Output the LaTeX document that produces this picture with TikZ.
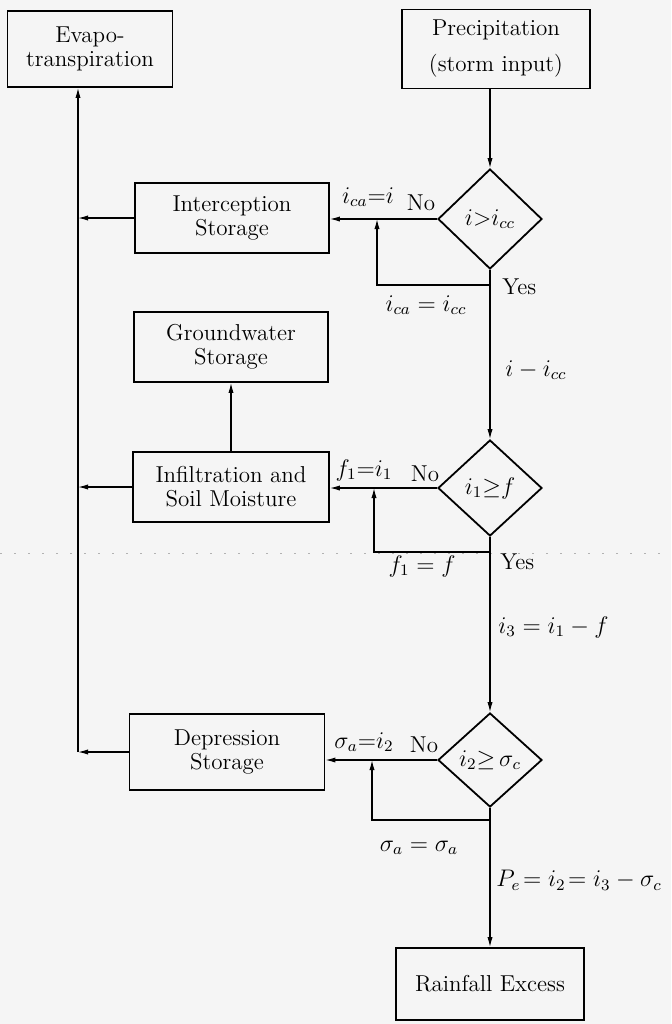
\documentclass[tikz,border=0pt]{standalone}
\usepackage{amsmath,amssymb}
\usetikzlibrary{shapes.geometric,arrows.meta}

\begin{document}
\begin{tikzpicture}[x=0.5pt,y=-0.5pt,
  every node/.style={font=\fontsize{11.5}{12}\selectfont},
  blk/.style={draw,line width=0.9pt,align=center,inner sep=0pt},
  test/.style={draw,diamond,line width=0.9pt,inner sep=0pt,minimum width=52pt,minimum height=50pt},
  flow/.style={line width=0.6pt,-{Latex[length=5pt,width=2.6pt]}},
  lbl/.style={inner sep=1pt}]
\fill[black!4] (0,0) rectangle (671,1024);
\useasboundingbox (0,0) rectangle (671,1024);
\draw[black!30,dash pattern=on 1pt off 6pt] (0,553) -- (671,553);

% boxes
\node[blk,minimum width=82.5pt,minimum height=38pt] (evap) at (90,49) {Evapo-\\transpiration};
\node[blk,minimum width=94pt,minimum height=39.5pt] (precip) at (496,49) {Precipitation\\[6pt](storm input)};
\node[blk,minimum width=97pt,minimum height=35pt] (inter) at (232,218) {Interception\\Storage};
\node[blk,minimum width=97pt,minimum height=35pt] (ground) at (231,347) {Groundwater\\Storage};
\node[blk,minimum width=98pt,minimum height=35pt] (infil) at (231,487) {Infiltration and\\Soil Moisture};
\node[blk,minimum width=97.5pt,minimum height=38pt] (depr) at (227,752) {Depression\\Storage};
\node[blk,minimum width=94pt,minimum height=36pt] (rain) at (490,984) {Rainfall Excess};

% decisions
\node[test] (d1) at (490,219) {$i{>}i_{cc}$\hspace{6pt}};
\node[test,minimum height=48pt] (d2) at (490,488) {$i_1{\geq}f$\hspace{6pt}};
\node[test,minimum height=47pt] (d3) at (490,760) {$i_2{\geq}\,\sigma_c$};

% left trunk
\coordinate (trunk) at (78,752);
\draw[flow] (trunk) -- (trunk |- evap.south);
\draw[flow] (inter.west) -- (inter.west -| trunk);
\draw[flow] (infil.west) -- (infil.west -| trunk);
\draw[flow] (depr.west) -- (trunk);
\draw[flow] (infil.north) -- (ground.south);

% main column
\draw[flow] (precip.south -| d1.north) -- (d1.north);
\draw[flow] (d1.south) -- (d2.north);
\draw[flow] (d2.south) -- (d3.north);
\draw[flow] (d3.south) -- (rain.north);

% no branches
\draw[flow] (d1.west) -- (d1.west -| inter.east);
\draw[flow] (d2.west) -- (d2.west -| infil.east);
\draw[flow] (d3.west) -- (d3.west -| depr.east);

% yes returns
\coordinate (r1) at (377,285);
\coordinate (r2) at (374,552);
\coordinate (r3) at (372,820);
\draw[flow] (r1 -| d1.south) -- (r1) -- (r1 |- d1.west);
\draw[flow] (r2 -| d2.south) -- (r2) -- (r2 |- d2.west);
\draw[flow] (r3 -| d3.south) -- (r3) -- (r3 |- d3.west);

% labels
\node[lbl] (ica1) at (368,197) {$i_{ca}{=}i$};
\node[lbl] (no1) at (421,203) {No};
\node[lbl,anchor=west] (yes1) at (500,287) {Yes};
\node[lbl] (ica2) at (426,305) {$i_{ca} = i_{cc}$};
\node[lbl,anchor=west] (rest1) at (503,370) {$i - i_{cc}$};
\node[lbl] (fa1) at (364,470) {$f_1{=}i_1$};
\node[lbl] (no2) at (425,474) {No};
\node[lbl,anchor=west] (yes2) at (498,562) {Yes};
\node[lbl] (fa2) at (422,566) {$f_1 = f$};
\node[lbl,anchor=west] (rest2) at (496,627) {$i_3 = i_1 - f$};
\node[lbl] (sa1) at (364,742) {$\sigma_a{=}i_2$};
\node[lbl] (no3) at (424,745) {No};
\node[lbl] (sa2) at (419,848) {$\sigma_a = \sigma_a$};
\node[lbl,anchor=west] (rest3) at (494,880) {$P_e \!= i_2 \!= i_3 - \sigma_c$};
\end{tikzpicture}
\end{document}
